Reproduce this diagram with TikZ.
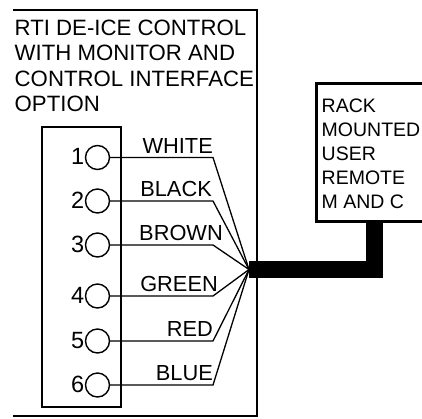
\documentclass[tikz,border=0pt]{standalone}
\usepackage{fontspec}
\setmainfont{Liberation Sans}
\begin{document}
\begin{tikzpicture}[x=1pt,y=-1pt,
  title/.style={anchor=base west,inner sep=0pt,font=\fontsize{22.2}{26}\selectfont},
  remote/.style={anchor=base west,inner sep=0pt,font=\fontsize{19.5}{24}\selectfont},
  wirelabel/.style={anchor=base east,inner sep=0pt,font=\fontsize{21.8}{26}\selectfont},
  pinnum/.style={anchor=base east,inner sep=0pt,font=\fontsize{23.5}{26}\selectfont},
  pin/.style={circle,draw,line width=1.4pt,minimum size=24pt,inner sep=0pt},
  wire/.style={line width=1.3pt,line join=miter},
  frame/.style={line width=2.6pt,line join=miter},
  cable/.style={line width=16.5pt,line join=miter}]
\useasboundingbox (0,0) rectangle (422,418);
% main enclosure (open on the left)
\draw[frame] (13,10) -- (257,10) -- (257,416) -- (13,416);
\node[title] (t1) at (14.5,35) {RTI DE-ICE CONTROL};
\node[title] (t2) at (14.5,60.5) {WITH MONITOR AND};
\node[title] (t3) at (14.5,86) {CONTROL INTERFACE};
\node[title] (t4) at (14.5,111.5) {OPTION};
% terminal strip
\draw[line width=1.5pt] (42,127) rectangle (121,407);
% remote unit (extends past right edge)
\draw[frame,line width=3pt] (423,83.5) -- (316.5,83.5) -- (316.5,221) -- (423,221);
\node[remote] (r1) at (321.5,112) {RACK};
\node[remote] (r2) at (321.5,136) {MOUNTED};
\node[remote] (r3) at (321.5,160) {USER};
\node[remote] (r4) at (321.5,184) {REMOTE};
\node[remote] (r5) at (321.5,208) {M AND C};
% convergence point and cable
\coordinate (hub) at (249,269.5);
\coordinate (bend) at (374.5,269.5);
\coordinate (rbot) at (374.5,221);
\draw[cable] (hub) -- (bend) -- (rbot);
% pins
\foreach \i/\y/\col/\lx in {1/157.5/WHITE/213,2/201/BLACK/212,3/245/BROWN/223,4/296/GREEN/218,5/341/RED/213,6/385/BLUE/213}{
  \node[pin] (p\i) at (97.5,\y) {};
  \node[pinnum] (n\i) at (84.5,\y+7.3) {\i};
  \coordinate (k\i) at (213,\y);
  \node[wirelabel] (l\i) at (\lx,\y-4.5) {\col};
  \draw[wire] (p\i.east) -- (k\i) -- (hub);
}
\end{tikzpicture}
\end{document}
